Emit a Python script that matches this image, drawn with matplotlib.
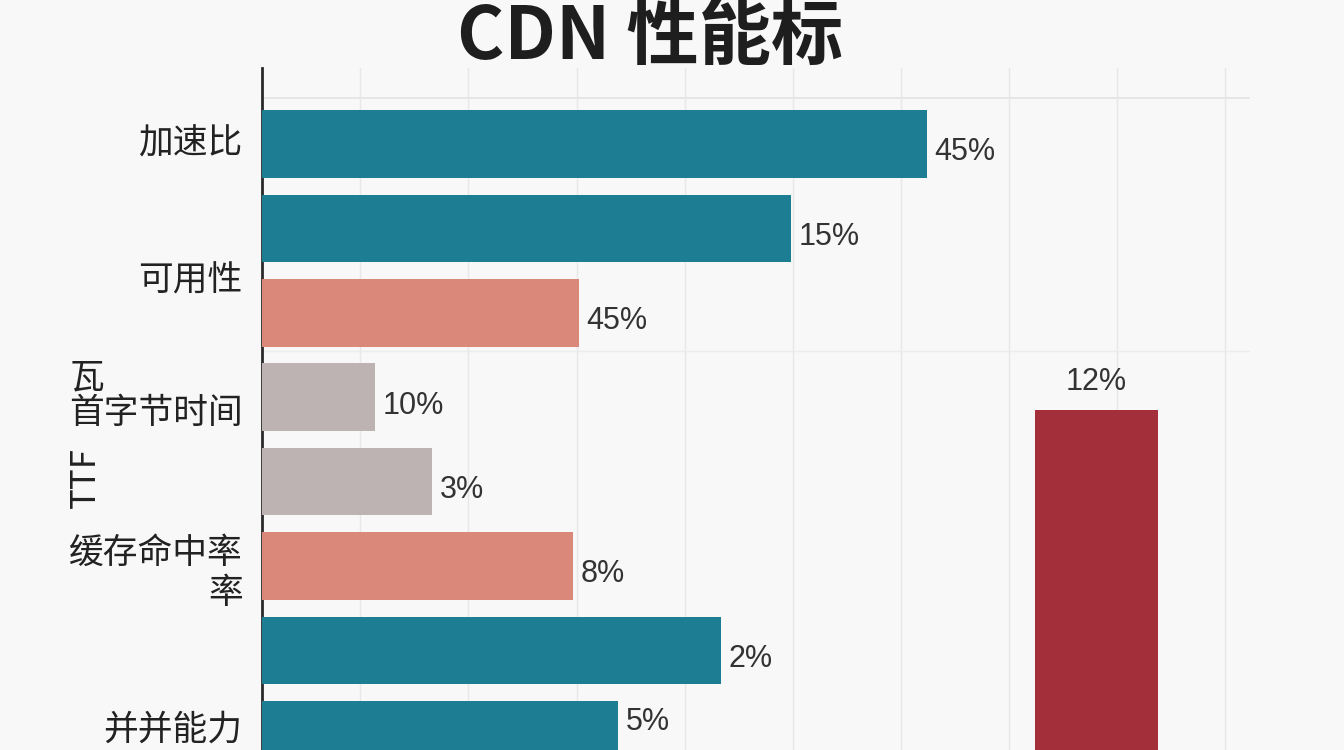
import numpy as np
import matplotlib.pyplot as plt

plt.rcParams['font.family'] = ['Noto Sans CJK SC', 'DejaVu Sans']

# bar lengths (relative scale as drawn) and the printed labels
bar_len = [67.6, 53.8, 32.2, 11.5, 17.3, 31.6, 46.7, 36.2]
bar_txt = ['45%', '15%', '45%', '10%', '3%', '8%', '2%', '5%']
bar_col = ['#1d7d93', '#1d7d93', '#d9887a', '#bdb3b3', '#bdb3b3',
           '#d9887a', '#1d7d93', '#1d7d93']

tick_pos = [-0.05, 1.58, 3.15, 5.01, 6.9]
tick_lab = ['加速比', '可用性', '首字节时间', '缓存命中率\n率', '并并能力']

red_x = 84.9
red_top = 3.15
red_txt = '12%'

fig = plt.figure(figsize=(13.44, 7.5), dpi=100)
fig.patch.set_facecolor('#f8f8f8')
ax = fig.add_axes([262/1344, 0.0, (1250-262)/1344, 1-68/750])
ax.set_facecolor('#f8f8f8')

y = np.arange(len(bar_len))
ax.barh(y, bar_len, height=0.8, color=bar_col, zorder=3)
for yi, v, t in zip(y, bar_len, bar_txt):
    ax.text(v + 0.8, min(yi + 0.1, 6.85), t, va='center', ha='left', fontsize=22,
            color='#333333', family=['Liberation Sans', 'DejaVu Sans'])

# tall red bar on the right
ax.bar(red_x, 10, bottom=red_top, width=12.5, color='#a32f3a', zorder=3)
ax.text(red_x, red_top - 0.15, red_txt, ha='center', va='bottom', fontsize=22,
        color='#333333', family=['Liberation Sans', 'DejaVu Sans'])

ax.set_xlim(0, 100.5)
ax.set_ylim(7.18, -0.9)
ax.set_xticks(np.arange(10, 100, 11))
ax.set_xticklabels([])
ax.set_yticks(tick_pos)
ax.set_yticklabels(tick_lab, fontsize=25, color='#222222')
ax.tick_params(length=0, pad=14)
ax.grid(axis='x', color='#e8e8e8', lw=1, zorder=0)
ax.axhline(-0.55, color='#e3e3e3', lw=1.2, zorder=1)
ax.axhline(2.45, color='#ececec', lw=1, zorder=1)

for s in ['top', 'right', 'bottom']:
    ax.spines[s].set_visible(False)
ax.spines['left'].set_color('#2a2a2a')
ax.spines['left'].set_linewidth(2)

fig.text(70/1344, 1-378/750, '瓦', fontsize=25, ha='left', va='center', color='#222222')
fig.text(85/1344, 1-478/750, 'TTF', fontsize=25, ha='center', va='center',
         rotation=90, color='#222222')

fig.text(650/1344, 1-38/750, 'CDN 性能标', fontsize=52, fontweight='bold',
         ha='center', va='center', color='#1e1e1e')

fig.savefig('out.png', dpi=100, facecolor=fig.get_facecolor())
